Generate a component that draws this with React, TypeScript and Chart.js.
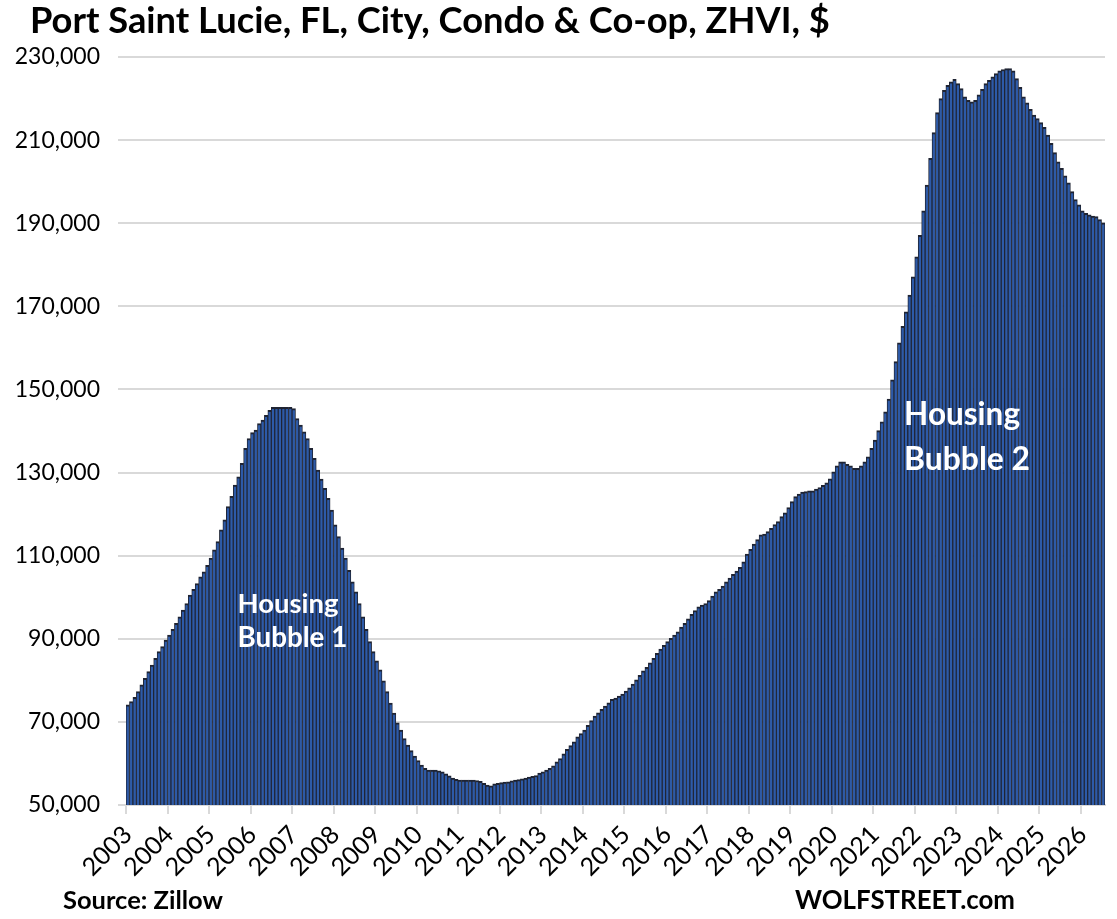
import React, { useEffect, useRef } from "react";
import { Chart, registerables } from "chart.js";

Chart.register(...registerables);

const startYear = 2003;
const lastYearLabel = 2026;

// Monthly ZHVI values (thousands of $), starting Jan 2003
const values2003to2007: number[] = [
  74.1, 74.9, 75.9, 77.3, 78.9, 80.5, 82.1, 83.7, 85.3, 86.9, 88.1, 89.7,
  90.9, 92.3, 93.7, 95.3, 96.9, 98.5, 100.5, 101.9, 103.3, 104.9, 106.1, 107.7,
  109.4, 111.4, 113.4, 116.2, 118.6, 121.8, 124.3, 127, 129, 132.2, 135.8, 138.2,
  139.6, 140.2, 141.8, 142.6, 143.8, 145, 145.7, 145.7, 145.7, 145.7, 145.7, 145.7,
  145.4, 143, 141.4, 139.8, 138.2, 135.8, 133.4, 130.6,
];
const values2007to2012: number[] = [
  128.4, 126.2, 123.8, 121, 117.4, 114.6, 111.8, 109.4, 106.5, 103.7, 101.3, 98.5,
  95.3, 92.3, 89.3, 86.9, 84.7, 82.5, 79.9, 77.3, 74.5, 72.1, 69.8, 68,
  66, 64.4, 63.1, 61.8, 60.7, 59.6, 58.8, 58.4, 58.4, 58.4, 58.2, 58,
  57.5, 57, 56.5, 56.2, 56, 56, 56, 56, 56, 55.9, 55.7, 55.2,
  54.8, 54.6, 55.1, 55.2, 55.4, 55.5, 55.6, 55.8, 56, 56.1, 56.3, 56.5,
  56.7, 56.9, 57.1, 57.7,
];
const values2013to2017: number[] = [
  58.0, 58.4, 58.8, 59.4, 60.4, 61.2, 62.3, 63.4, 64.3, 65.2, 66.4, 67.2,
  68, 69.2, 70.3, 71.4, 72.2, 73, 73.8, 74.6, 75.4, 75.7, 76.2, 76.7,
  77.4, 78.2, 79.1, 80.1, 81.2, 82.3, 83.1, 84.2, 85.3, 86.5, 87.5, 88.4,
  89.3, 90.1, 90.9, 91.7, 92.8, 93.7, 94.8, 95.9, 96.8, 97.7, 98.1, 98.5,
  99.2, 100.3, 101.3, 101.9, 102.7, 103.7, 104.6, 105.5, 106.3,
];
const values2017to2021: number[] = [
  107.2, 108.5, 110.4, 111.5, 112.8, 113.9, 115, 115.2, 115.8, 116.6, 117.5, 118.2,
  119.4, 120.3, 121.6, 123, 124.2, 124.8, 125.3, 125.4, 125.6, 125.6, 126, 126.4,
  126.9, 127.5, 128.5, 130.2, 131.6, 132.6, 132.6, 132, 131.6, 131, 131, 131.6,
  132.6, 133.8, 135.8, 137.8, 140.1, 142.2, 144.6, 147.7,
];
const values2021to2026: number[] = [
  152.3, 156.7, 161.2, 165.2, 168.7, 172.7, 177.1, 181.9, 187.1, 193, 199.2, 205.6,
  211.8, 216.6, 220, 222, 223.2, 224, 224.6, 223.6, 222.4, 220.4, 219.6, 219.2,
  219.6, 220.9, 222.2, 223.6, 224.4, 225.2, 226, 226.7, 227, 227.2, 227.2, 226.7,
  224.8, 222.7, 220.4, 219, 217.4, 216, 215.2, 214.2, 213.1, 211.2, 209.2, 207,
  204.8, 203.2, 201.4, 199.7, 197.6, 195.7, 194.4, 193, 192.4, 192, 191.7, 191.6,
  190.9, 190.1,
];

const zhviThousands: number[] = [
  ...values2003to2007,
  ...values2007to2012,
  ...values2013to2017,
  ...values2017to2021,
  ...values2021to2026,
];
const zhvi: number[] = zhviThousands.map((v) => Math.round(v * 1000));

const monthLabels: string[] = zhvi.map((_, i) => {
  const y = startYear + Math.floor(i / 12);
  const m = (i % 12) + 1;
  return `${y}-${m < 10 ? "0" + m : m}`;
});

const yTickMin = 50000;
const yTickMax = 230000;
const yTickStep = 20000;

const titleText = "Port Saint Lucie, FL, City, Condo & Co-op, ZHVI, $";
const sourceText = "Source: Zillow";
const brandText = "WOLFSTREET.com";
const bubble1Lines = ["Housing", "Bubble 1"];
const bubble2Lines = ["Housing", "Bubble 2"];

const FONT = "Lato, 'Noto Sans', sans-serif";

function fitText(
  ctx: CanvasRenderingContext2D,
  text: string,
  x: number,
  y: number,
  targetWidth: number,
  baseSize: number,
  color: string
) {
  ctx.font = `bold ${baseSize}px ${FONT}`;
  const w = ctx.measureText(text).width;
  const size = baseSize * (targetWidth / w);
  ctx.font = `bold ${size}px ${FONT}`;
  ctx.fillStyle = color;
  ctx.textAlign = "left";
  ctx.textBaseline = "alphabetic";
  ctx.fillText(text, x, y);
}

const textPlugin = {
  id: "textPlugin",
  afterDatasetsDraw(chart: any) {
    const ctx: CanvasRenderingContext2D = chart.ctx;
    const xs = chart.scales.x;
    const ys = chart.scales.y;
    ctx.save();
    const b1x = xs.getPixelForValue(32) - 1;
    fitText(ctx, bubble1Lines[0], b1x, ys.getPixelForValue(96200), 101, 24, "#ffffff");
    fitText(ctx, bubble1Lines[1], b1x, ys.getPixelForValue(88000), 110, 24, "#ffffff");
    const b2x = xs.getPixelForValue(225) - 2;
    fitText(ctx, bubble2Lines[0], b2x, ys.getPixelForValue(141400), 116, 28, "#ffffff");
    fitText(ctx, bubble2Lines[1], b2x, ys.getPixelForValue(130600), 126, 28, "#ffffff");
    ctx.restore();
  },
  afterDraw(chart: any) {
    const ctx: CanvasRenderingContext2D = chart.ctx;
    ctx.save();
    fitText(ctx, titleText, 30, 33, 800, 29, "#000000");
    fitText(ctx, sourceText, 63, 909, 160, 22, "#000000");
    fitText(ctx, brandText, 795, 909, 220, 26, "#000000");
    ctx.restore();
  },
};

export default function App() {
  const canvasRef = useRef<HTMLCanvasElement | null>(null);

  useEffect(() => {
    document.body.style.margin = "0";
    const canvas = canvasRef.current;
    if (!canvas) return;
    const chart = new Chart(canvas, {
      type: "bar",
      data: {
        labels: monthLabels,
        datasets: [
          {
            data: zhvi,
            backgroundColor: "#2D5AA8",
            borderColor: "#1F2433",
            borderWidth: { top: 2, left: 0.95, right: 0.95, bottom: 0 },
            borderSkipped: false,
            barPercentage: 1,
            categoryPercentage: 1,
          },
        ],
      },
      options: {
        responsive: false,
        animation: false,
        devicePixelRatio: 1,
        layout: { padding: { top: 57, right: 12, left: 0, bottom: 0 } },
        plugins: {
          legend: { display: false },
          title: { display: false },
          tooltip: { enabled: false },
        },
        scales: {
          x: {
            type: "category",
            offset: true,
            afterFit(scale: any) {
              scale.height = 114;
              scale.paddingLeft = 0;
              scale.paddingRight = 0;
            },
            grid: {
              drawOnChartArea: false,
              drawTicks: true,
              tickLength: 9,
              lineWidth: 2,
              offset: true,
              color: (c: any) => (c.index % 12 === 0 ? "#d9d9d9" : "rgba(0,0,0,0)"),
            },
            border: { display: true, color: "#d9d9d9", width: 2 },
            ticks: {
              autoSkip: false,
              minRotation: 45,
              maxRotation: 45,
              padding: 6,
              color: "#000000",
              font: { family: FONT, size: 25 },
              callback: (_v: any, i: number) => {
                if (i % 12 !== 0) return "";
                const y = startYear + i / 12;
                return y <= lastYearLabel ? String(y) : "";
              },
            },
          },
          y: {
            min: yTickMin,
            max: yTickMax,
            afterFit(scale: any) {
              scale.width = 126;
              scale.paddingTop = 0;
              scale.paddingBottom = 0;
            },
            grid: {
              color: "#d9d9d9",
              lineWidth: 2,
              drawTicks: true,
              tickLength: 8,
            },
            border: { display: false },
            ticks: {
              stepSize: yTickStep,
              padding: 18,
              color: "#000000",
              font: { family: FONT, size: 23 },
              callback: (v: any) => Number(v).toLocaleString("en-US"),
            },
          },
        },
      },
      plugins: [textPlugin],
    });
    return () => chart.destroy();
  }, []);

  return (
    <div style={{ width: 1117, height: 919, background: "#ffffff" }}>
      <canvas ref={canvasRef} width={1117} height={919} style={{ display: "block" }} />
    </div>
  );
}
